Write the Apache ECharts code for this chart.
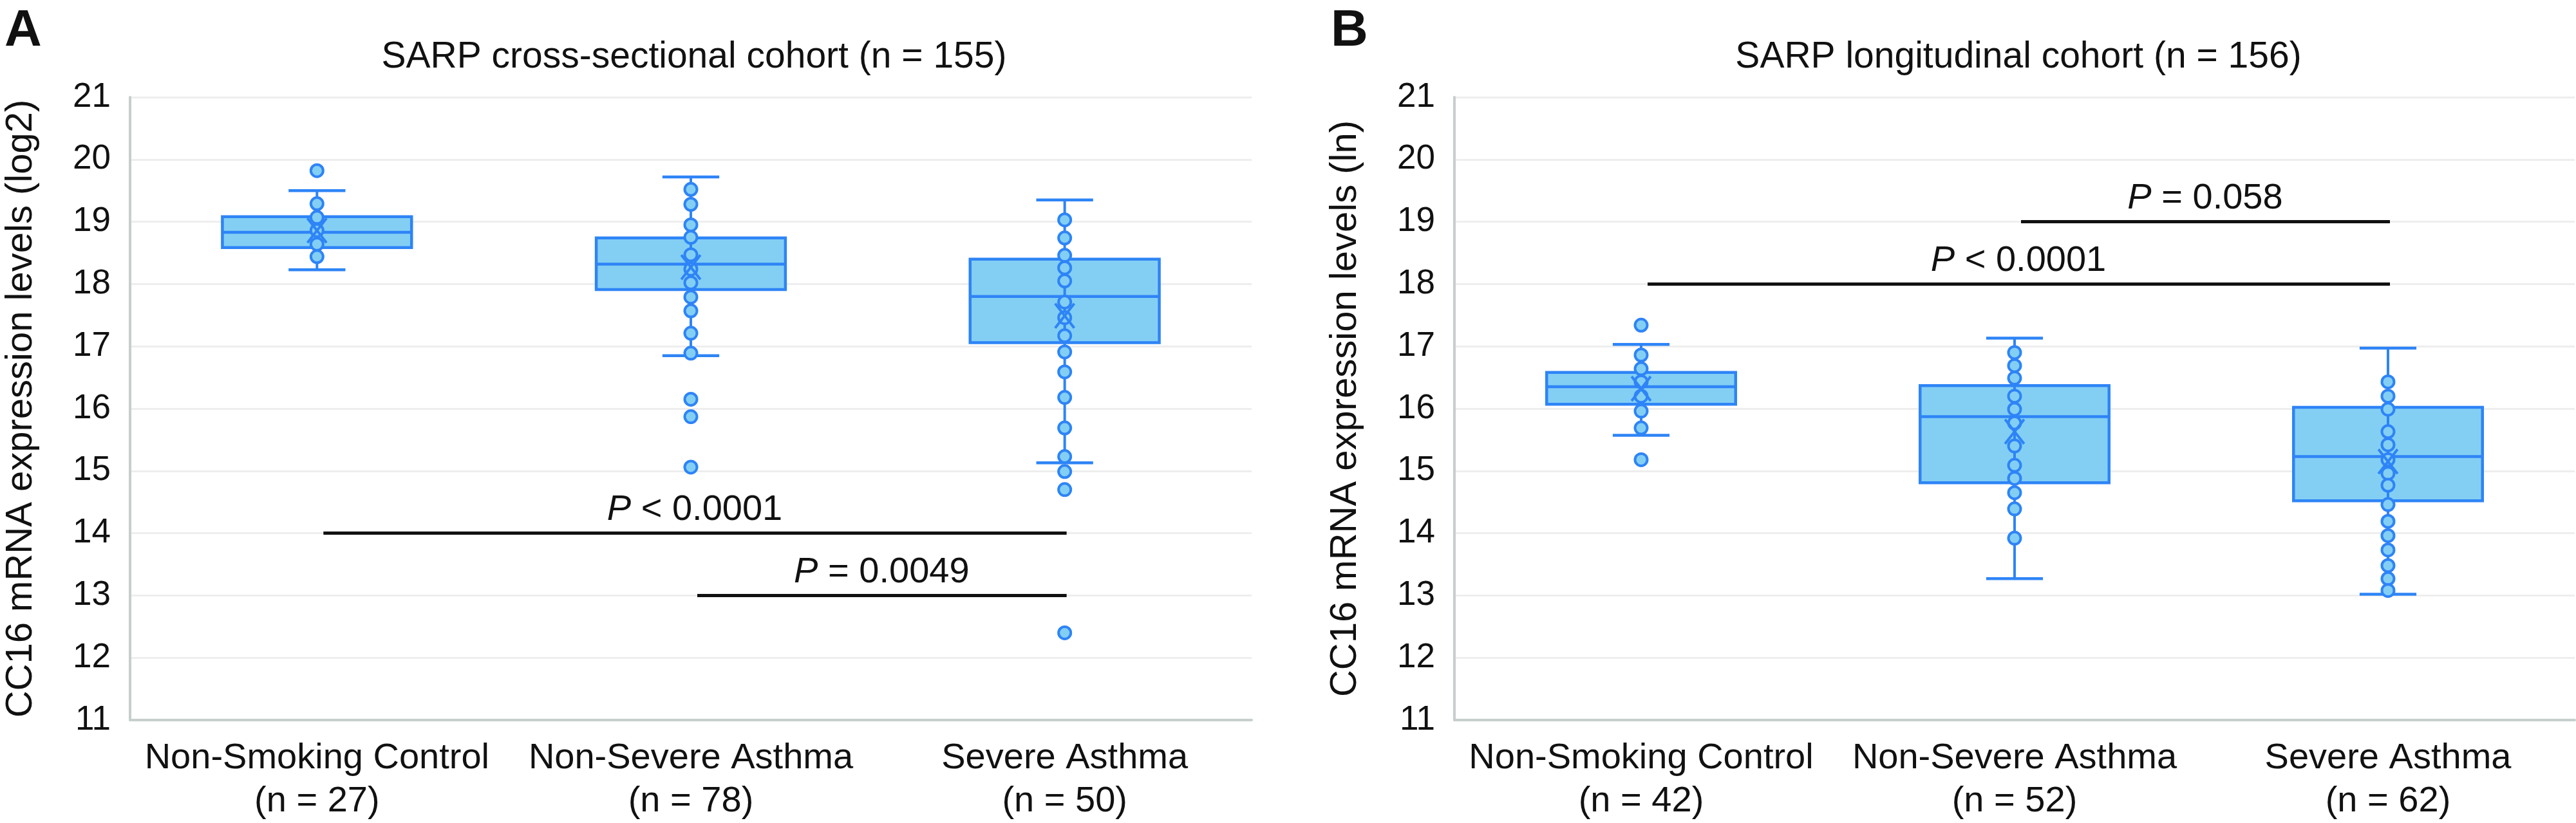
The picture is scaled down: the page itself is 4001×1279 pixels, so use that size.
<!DOCTYPE html>
<html><head><meta charset="utf-8">
<script src="https://cdn.jsdelivr.net/npm/echarts@6/dist/echarts.min.js"></script>
<style>html,body{margin:0;padding:0;background:#fff}#c{width:4001px;height:1279px}</style>
</head><body><div id="c"></div>
<script>
// ---------- DATA ----------
const titleA = 'SARP cross-sectional cohort (n = 155)';
const titleB = 'SARP longitudinal cohort (n = 156)';
const yNameA = 'CC16 mRNA expression levels (log2)';
const yNameB = 'CC16 mRNA expression levels (ln)';
const categoriesA = ['Non-Smoking Control\n(n = 27)', 'Non-Severe Asthma\n(n = 78)', 'Severe Asthma\n(n = 50)'];
const categoriesB = ['Non-Smoking Control\n(n = 42)', 'Non-Severe Asthma\n(n = 52)', 'Severe Asthma\n(n = 62)'];
const yTicks = [11, 12, 13, 14, 15, 16, 17, 18, 19, 20, 21];

// box stats: [min, Q1, median, Q3, max]
const boxesA = [
  [18.23, 18.585, 18.83, 19.08, 19.50],
  [16.85, 17.91, 18.32, 18.74, 19.72],
  [15.13, 17.06, 17.80, 18.40, 19.35]
];
const meansA = [18.86, 18.27, 17.49];
const pointsA0 = [19.82, 19.29, 19.07, 18.86, 18.64, 18.44];
const pointsA1 = [19.52, 19.28, 18.95, 18.75, 18.47, 18.24, 18.02, 17.79, 17.57, 17.21, 16.89, 16.15, 15.87, 15.06];
const pointsA2 = [19.03, 18.74, 18.46, 18.26, 18.05, 17.71, 17.46, 17.17, 16.91, 16.59, 16.18, 15.69, 15.23, 14.99, 14.70, 12.40];

const boxesB = [
  [15.57, 16.07, 16.35, 16.58, 17.03],
  [13.27, 14.81, 15.87, 16.37, 17.13],
  [13.02, 14.52, 15.23, 16.02, 16.97]
];
const meansB = [16.32, 15.63, 15.15];
const pointsB0 = [17.34, 16.86, 16.64, 16.43, 16.20, 15.96, 15.69, 15.18];
const pointsB1 = [16.90, 16.69, 16.49, 16.20, 15.99, 15.77, 15.40, 15.09, 14.88, 14.65, 14.39, 13.92];
const pointsB2 = [16.43, 16.20, 15.99, 15.63, 15.42, 15.18, 14.96, 14.77, 14.46, 14.19, 13.96, 13.73, 13.48, 13.27, 13.08];

// significance brackets: [fromCategory, toCategory, yValue]
const bracketsA = [[0, 2, 14], [1, 2, 13]];
const bracketLabelsA = ['{i|P} < 0.0001', '{i|P} = 0.0049'];
const bracketsB = [[0, 2, 18], [1, 2, 19]];
const bracketLabelsB = ['{i|P} < 0.0001', '{i|P} = 0.058'];

// ---------- STYLE ----------
const FONT = '"Liberation Sans", Arial, Helvetica, sans-serif';
const FILL = '#83cff4';
const STROKE = '#2e84f6';
const GRID_LINE = '#eeeeee';
const AXIS_LINE = '#c7cece';

function toPoints(arrs) {
  const out = [];
  arrs.forEach((arr, i) => arr.forEach(v => out.push([i, v])));
  return out;
}

function renderBox(params, api) {
  const x = api.value(0);
  const pMin = api.coord([x, api.value(1)]);
  const pQ1 = api.coord([x, api.value(2)]);
  const pMed = api.coord([x, api.value(3)]);
  const pQ3 = api.coord([x, api.value(4)]);
  const pMax = api.coord([x, api.value(5)]);
  const band = api.size([1, 0])[0];
  const bw = band * 0.506;
  const cw = band * 0.152;
  const cx = pMed[0];
  return {
    type: 'group',
    children: [
      { type: 'rect', shape: { x: cx - bw / 2, y: pQ3[1], width: bw, height: pQ1[1] - pQ3[1] },
        style: { fill: FILL, stroke: STROKE, lineWidth: 4.5 } },
      { type: 'line', shape: { x1: cx, y1: pMax[1], x2: cx, y2: pMin[1] },
        style: { stroke: STROKE, lineWidth: 4 } },
      { type: 'line', shape: { x1: cx - cw / 2, y1: pMax[1], x2: cx + cw / 2, y2: pMax[1] },
        style: { stroke: STROKE, lineWidth: 4.5 } },
      { type: 'line', shape: { x1: cx - cw / 2, y1: pMin[1], x2: cx + cw / 2, y2: pMin[1] },
        style: { stroke: STROKE, lineWidth: 4.5 } },
      { type: 'line', shape: { x1: cx - bw / 2, y1: pMed[1], x2: cx + bw / 2, y2: pMed[1] },
        style: { stroke: STROKE, lineWidth: 4.5 } }
    ]
  };
}

function renderMean(params, api) {
  const p = api.coord([api.value(0), api.value(1)]);
  const h = 19;
  return {
    type: 'group',
    children: [
      { type: 'line', shape: { x1: p[0] - h * 0.78, y1: p[1] - h, x2: p[0] + h * 0.78, y2: p[1] + h }, style: { stroke: STROKE, lineWidth: 4 } },
      { type: 'line', shape: { x1: p[0] + h * 0.78, y1: p[1] - h, x2: p[0] - h * 0.78, y2: p[1] + h }, style: { stroke: STROKE, lineWidth: 4 } }
    ]
  };
}

function makeBracketRenderer(labels) {
  return function (params, api) {
    const a = api.coord([api.value(0), api.value(2)]);
    const b = api.coord([api.value(1), api.value(2)]);
    return {
      type: 'group',
      children: [
        { type: 'line', shape: { x1: a[0] + 10, y1: a[1], x2: b[0] + 3, y2: b[1] },
          style: { stroke: '#111111', lineWidth: 5 } },
        { type: 'text', x: (a[0] + b[0]) / 2 + 6, y: a[1] - 8,
          style: { text: labels[params.dataIndex], align: 'center', verticalAlign: 'bottom',
            fill: '#111111', fontSize: 56, fontFamily: FONT,
            rich: { i: { fontStyle: 'italic', fontSize: 56, fontFamily: FONT, fill: '#111111' } } } }
      ]
    };
  };
}

function boxData(boxes) { return boxes.map((b, i) => [i].concat(b)); }
function meanData(means) { return means.map((m, i) => [i, m]); }

function yAxis(gridIndex, name) {
  return {
    type: 'value', gridIndex: gridIndex, min: yTicks[0], max: yTicks[yTicks.length - 1], interval: 1,
    name: name, nameLocation: 'middle', nameGap: 140,
    nameTextStyle: { fontSize: 58, fontFamily: FONT, color: '#111' },
    axisLine: { show: true, lineStyle: { color: AXIS_LINE, width: 4 } },
    axisTick: { show: false },
    axisLabel: { fontSize: 53, fontFamily: FONT, color: '#111', margin: 30 },
    splitLine: { show: true, lineStyle: { color: GRID_LINE, width: 3 } }
  };
}
function xAxis(gridIndex, cats) {
  return {
    type: 'category', gridIndex: gridIndex, data: cats, boundaryGap: true,
    axisLine: { show: true, lineStyle: { color: AXIS_LINE, width: 4 } },
    axisTick: { show: false },
    axisLabel: { fontSize: 56, lineHeight: 67, fontFamily: FONT, color: '#111', margin: 26, interval: 0 },
    splitLine: { show: false }
  };
}

function panelSeries(idx, boxes, means, points, brackets, labels) {
  return [
    { type: 'custom', xAxisIndex: idx, yAxisIndex: idx, renderItem: renderBox, data: boxData(boxes),
      encode: { x: 0, y: [1, 2, 3, 4, 5] }, z: 2, silent: true },
    { type: 'scatter', xAxisIndex: idx, yAxisIndex: idx, data: toPoints(points), symbol: 'circle', symbolSize: 19,
      itemStyle: { color: FILL, borderColor: STROKE, borderWidth: 4, opacity: 1 }, z: 3, silent: true },
    { type: 'custom', xAxisIndex: idx, yAxisIndex: idx, renderItem: renderMean, data: meanData(means),
      encode: { x: 0, y: 1 }, z: 4, silent: true },
    { type: 'custom', xAxisIndex: idx, yAxisIndex: idx, renderItem: makeBracketRenderer(labels), data: brackets,
      encode: { x: [0, 1], y: 2 }, z: 5, silent: true }
  ];
}

const chart = echarts.init(document.getElementById('c'), null, { renderer: 'canvas' });
chart.setOption({
  backgroundColor: '#ffffff',
  animation: false,
  title: [
    { text: 'A', left: 2, top: 4, textStyle: { fontSize: 80, fontWeight: 'bold', fontFamily: FONT, color: '#111' } },
    { text: 'B', left: 2062, top: 4, textStyle: { fontSize: 80, fontWeight: 'bold', fontFamily: FONT, color: '#111' } },
    { text: titleA, left: 1073, textAlign: 'center', top: 56, textStyle: { fontSize: 57, fontWeight: 'normal', fontFamily: FONT, color: '#111' } },
    { text: titleB, left: 3130, textAlign: 'center', top: 56, textStyle: { fontSize: 57, fontWeight: 'normal', fontFamily: FONT, color: '#111' } }
  ],
  grid: [
    { left: 202, right: 2057, top: 151, bottom: 159 },
    { left: 2259, right: 2, top: 151, bottom: 159 }
  ],
  xAxis: [xAxis(0, categoriesA), xAxis(1, categoriesB)],
  yAxis: [yAxis(0, yNameA), yAxis(1, yNameB)],
  series: []
    .concat(panelSeries(0, boxesA, meansA, [pointsA0, pointsA1, pointsA2], bracketsA, bracketLabelsA))
    .concat(panelSeries(1, boxesB, meansB, [pointsB0, pointsB1, pointsB2], bracketsB, bracketLabelsB))
});
</script>
</body></html>
